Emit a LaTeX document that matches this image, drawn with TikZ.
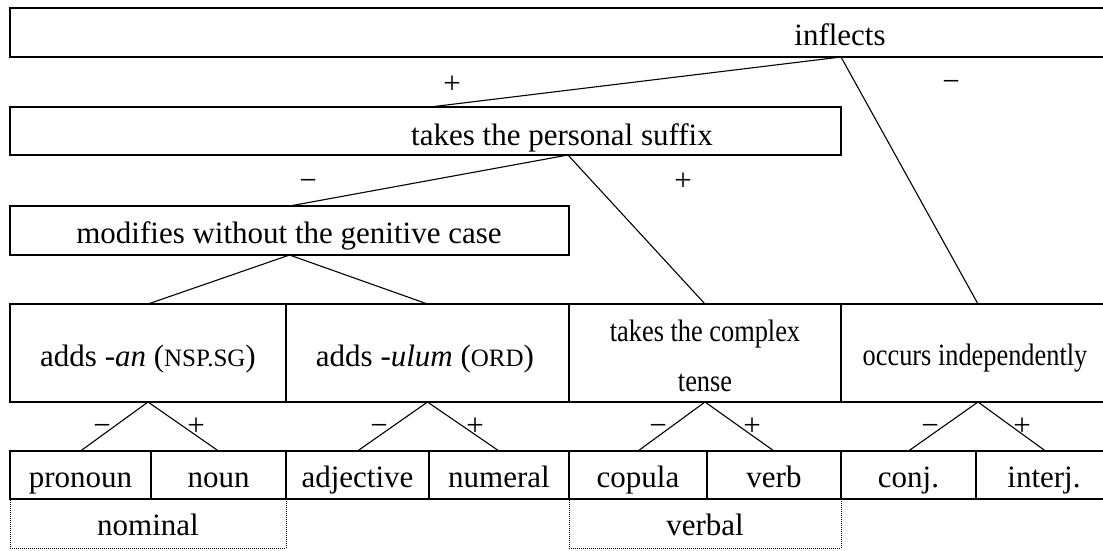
\documentclass[tikz,border=0pt]{standalone}
\usepackage{fontspec}
\setmainfont{Liberation Serif}
\newfontfamily\narrowfont[FakeStretch=0.85]{Liberation Serif}
\begin{document}
\begin{tikzpicture}[x=1pt,y=-1pt,
  box/.style={draw, line width=2pt, inner sep=0pt, outer sep=0pt, anchor=north west},
  group/.style={draw, densely dotted, line width=1pt, inner sep=0pt, outer sep=0pt, anchor=north west},
  lbl/.style={anchor=base, inner sep=0pt, font=\fontsize{31}{37}\selectfont},
  nlbl/.style={anchor=base, inner sep=0pt, font=\narrowfont\fontsize{31}{37}\selectfont},
  sign/.style={anchor=base, inner sep=0pt, font=\fontsize{31}{37}\selectfont},
  branch/.style={line width=1.1pt}]
\clip (0,0) rectangle (1103,550);
% decision boxes
\node[box, minimum width=1105pt, minimum height=49pt] (inf) at (10,8) {};
\node[box, minimum width=831pt, minimum height=48pt] (ps) at (10,107) {};
\node[box, minimum width=559pt, minimum height=49pt] (mod) at (10,206) {};
% middle row
\node[box, minimum width=276pt, minimum height=98pt] (an) at (10,304) {};
\node[box, minimum width=283pt, minimum height=98pt] (ulum) at (286,304) {};
\node[box, minimum width=272pt, minimum height=98pt] (ctense) at (569,304) {};
\node[box, minimum width=274pt, minimum height=98pt] (indep) at (841,304) {};
% bottom row
\node[box, minimum width=141pt, minimum height=48pt] (pron) at (10,451) {};
\node[box, minimum width=135pt, minimum height=48pt] (noun) at (151,451) {};
\node[box, minimum width=143pt, minimum height=48pt] (adj) at (286,451) {};
\node[box, minimum width=140pt, minimum height=48pt] (num) at (429,451) {};
\node[box, minimum width=138pt, minimum height=48pt] (cop) at (569,451) {};
\node[box, minimum width=134pt, minimum height=48pt] (verb) at (707,451) {};
\node[box, minimum width=135pt, minimum height=48pt] (conj) at (841,451) {};
\node[box, minimum width=139pt, minimum height=48pt] (interj) at (976,451) {};
% groups
\node[group, minimum width=276pt, minimum height=49pt] (nomg) at (10,499) {};
\node[group, minimum width=272pt, minimum height=49pt] (verbg) at (569,499) {};
% texts
\node[lbl] (t-inf) at (840,45) {inflects};
\node[lbl] (t-ps) at (562,145) {takes the personal suffix};
\node[lbl] (t-mod) at (289,243) {modifies without the genitive case};
\node[lbl] (t-an) at (148,366) {adds \textit{-an} ({\fontsize{25}{30}\selectfont NSP.SG})};
\node[lbl] (t-ulum) at (425,366) {adds \textit{-ulum} ({\fontsize{25}{30}\selectfont ORD})};
\node[nlbl] (t-ct1) at (705,341) {takes the complex};
\node[nlbl] (t-ct2) at (705,391) {tense};
\node[nlbl] (t-ind) at (975,365) {occurs independently};
\node[lbl] (t-pron) at (80.5,487) {pronoun};
\node[lbl] (t-noun) at (218.5,487) {noun};
\node[lbl] (t-adj) at (357.5,487) {adjective};
\node[lbl] (t-num) at (499,487) {numeral};
\node[lbl] (t-cop) at (638,487) {copula};
\node[lbl] (t-verb) at (774,487) {verb};
\node[lbl] (t-conj) at (908.5,487) {conj.};
\node[lbl] (t-interj) at (1044,487) {interj.};
\node[lbl] (t-nom) at (148,535) {nominal};
\node[lbl] (t-verbal) at (705,535) {verbal};
% connectors
\coordinate (inf-split) at (841,57);
\coordinate (ps-in) at (430,107);
\coordinate (ps-split) at (568,155);
\draw[branch] (inf-split) -- (ps-in);
\draw[branch] (inf-split) -- (indep.north);
\draw[branch] (ps-split) -- (mod.north);
\draw[branch] (ps-split) -- (ctense.north);
\draw[branch] (mod.south) -- (an.north);
\draw[branch] (mod.south) -- (ulum.north);
\draw[branch] (an.south) -- (pron.north);
\draw[branch] (an.south) -- (noun.north);
\draw[branch] (ulum.south) -- (adj.north);
\draw[branch] (ulum.south) -- (num.north);
\draw[branch] (ctense.south) -- (cop.north);
\draw[branch] (ctense.south) -- (verb.north);
\draw[branch] (indep.south) -- (conj.north);
\draw[branch] (indep.south) -- (interj.north);
% signs
\node[sign] (s1) at (452,93) {+};
\node[sign] (s2) at (951,91) {−};
\node[sign] (s3) at (308,190) {−};
\node[sign] (s4) at (683,190) {+};
\node[sign] (s5) at (102,435) {−};
\node[sign] (s6) at (196,435) {+};
\node[sign] (s7) at (379,435) {−};
\node[sign] (s8) at (475,435) {+};
\node[sign] (s9) at (658,435) {−};
\node[sign] (s10) at (752,435) {+};
\node[sign] (s11) at (930,435) {−};
\node[sign] (s12) at (1022,435) {+};
\end{tikzpicture}
\end{document}
